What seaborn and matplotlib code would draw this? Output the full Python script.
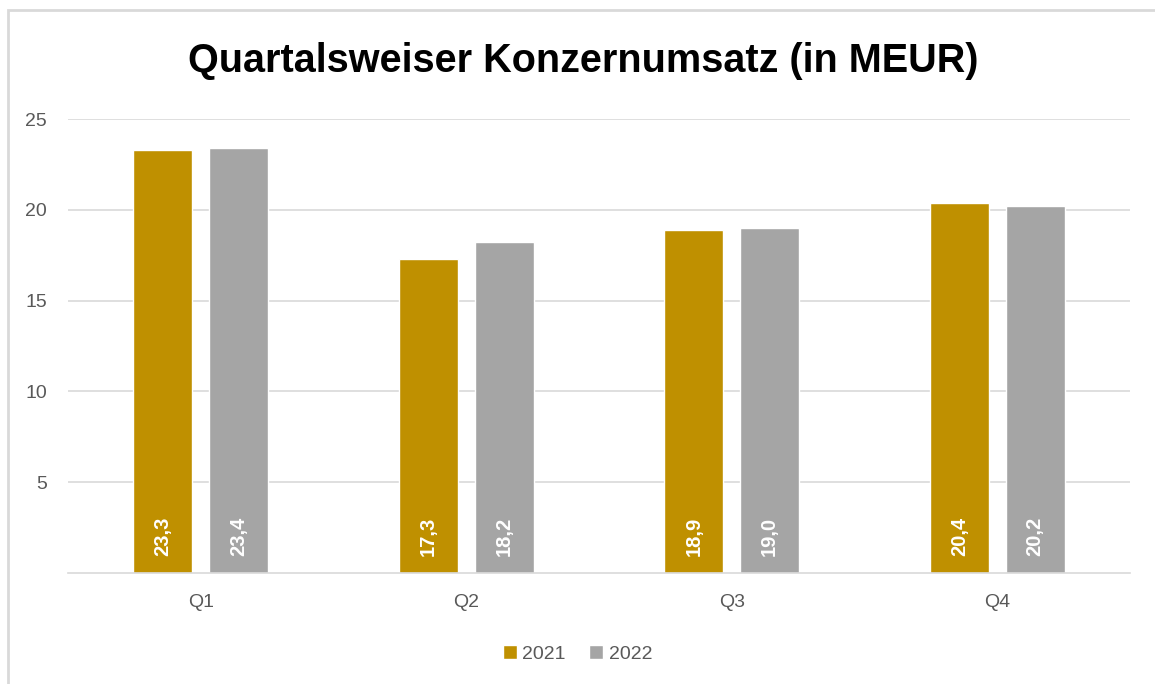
import matplotlib
matplotlib.use("Agg")
import matplotlib.pyplot as plt
import seaborn as sns
import pandas as pd
from matplotlib.patches import Rectangle

quartale = ["Q1", "Q2", "Q3", "Q4"]
umsatz_2021 = [23.3, 17.3, 18.9, 20.4]
umsatz_2022 = [23.4, 18.2, 19.0, 20.2]
jahre = ["2021", "2022"]
farben = ["#BF9000", "#A5A5A5"]

df = pd.DataFrame({
    "Quartal": quartale * 2,
    "Jahr": [jahre[0]] * 4 + [jahre[1]] * 4,
    "Umsatz": umsatz_2021 + umsatz_2022,
})

sns.set_style("white")
plt.rcParams["font.family"] = ["Liberation Sans", "DejaVu Sans"]

fig = plt.figure(figsize=(11.55, 6.84), dpi=100)
ax = fig.add_axes([68 / 1155, 1 - 573 / 684, 1062 / 1155, 454 / 684])

sns.barplot(data=df, x="Quartal", y="Umsatz", hue="Jahr", palette=farben,
            width=0.57, gap=0.22, ax=ax, saturation=1, legend=True)

# Werte unten in die Balken schreiben
for cont in ax.containers:
    for bar in cont:
        wert = bar.get_height()
        ax.text(bar.get_x() + bar.get_width() / 2, 2.0,
                f"{wert:.1f}".replace(".", ","), rotation=90,
                ha="center", va="center", color="white",
                fontsize=14.5, fontweight="bold")

ax.set_ylim(0, 25)
ax.set_xlim(-0.5, 3.5)
ax.set_yticks([5, 10, 15, 20, 25])
ax.yaxis.grid(True, color="#D9D9D9", linewidth=1.2)
ax.set_axisbelow(True)
ax.set_xlabel("")
ax.set_ylabel("")
for s in ["left", "right", "top"]:
    ax.spines[s].set_visible(False)
ax.spines["bottom"].set_color("#D9D9D9")
ax.spines["bottom"].set_linewidth(1.2)
ax.tick_params(axis="both", length=0, labelsize=14, labelcolor="#595959")
ax.tick_params(axis="y", pad=15)
ax.tick_params(axis="x", pad=15)

leg = ax.legend(loc="center", bbox_to_anchor=(0.5, 1 - 654 / 684), bbox_transform=fig.transFigure,
                ncol=2, frameon=False, fontsize=14, handlelength=0.7, handleheight=0.7,
                columnspacing=1.2, handletextpad=0.3)
for t in leg.get_texts():
    t.set_color("#595959")

fig.text(0.505, 1 - 61 / 684, "Quartalsweiser Konzernumsatz (in MEUR)",
         ha="center", va="center", fontsize=28.5, fontweight="bold", color="black")

fig.patches.append(Rectangle((8 / 1155, -0.05), 1.2, 1 - 10 / 684 + 0.05,
                             transform=fig.transFigure, fill=False,
                             edgecolor="#D9D9D9", linewidth=2))

fig.savefig("out.png", dpi=100)
